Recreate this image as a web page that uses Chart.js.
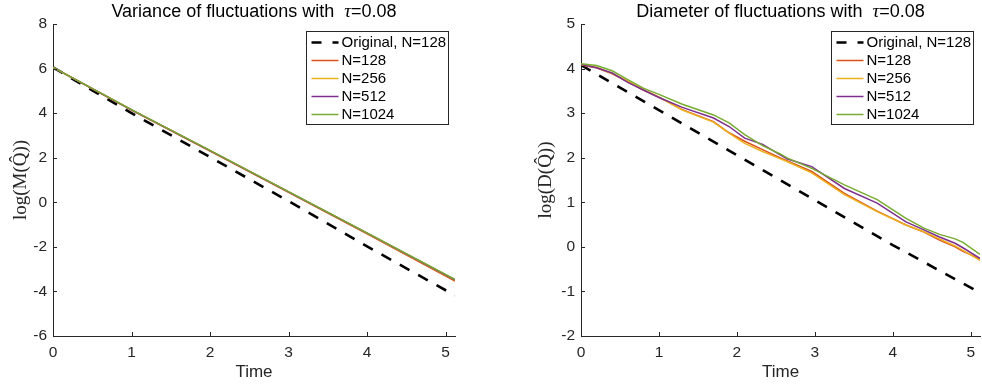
<!DOCTYPE html>
<html><head><meta charset="utf-8">
<script src="https://cdn.jsdelivr.net/npm/chart.js@4.4.1/dist/chart.umd.min.js"></script>
<style>
html,body{margin:0;padding:0;background:#fff;}
#wrap{position:relative;width:982px;height:387px;overflow:hidden;background:#fff;}
.pane{position:absolute;top:0;width:491px;height:387px;}
</style></head><body>
<div id="wrap">
  <div class="pane" style="left:0"><canvas id="cVar" width="491" height="387"></canvas></div>
  <div class="pane" style="left:491px"><canvas id="cDia" width="491" height="387"></canvas></div>
</div>
<script>
// ---- data ----
var seriesLabels = ['Original, N=128','N=128','N=256','N=512','N=1024'];
var seriesColors = ['#000000','#D95319','#EDB120','#7E2F8E','#77AC30'];
var xTicks = [0,1,2,3,4,5];
var xMax = 5.12;

// left: variance
var varYTicks = [-6,-4,-2,0,2,4,6,8];
var varTime = [0,1,2,3,4,5.12];
var varOriginal = [6.05,4.0,2.03,0.05,-1.98,-4.18];
var varN128  = [6.05,4.14,2.30,0.45,-1.42,-3.54];
var varN256  = [6.05,4.15,2.32,0.47,-1.39,-3.49];
var varN512  = [6.05,4.15,2.32,0.47,-1.38,-3.48];
var varN1024 = [6.05,4.16,2.33,0.48,-1.37,-3.46];

// right: diameter
var diaYTicks = [-2,-1,0,1,2,3,4,5];
var diaOrigTime = [0,1,2,3,4,5.12];
var diaOriginal = [4.08,3.07,2.06,1.05,0.04,-1.03];
var diaTime  = [0,0.2,0.4,0.6,0.8,1.0,1.3,1.7,1.9,2.1,2.33,2.55,2.65,2.96,3.38,3.8,4.17,4.4,4.6,4.8,4.9,5.12];
var diaN128  = [4.08,4.02,3.88,3.71,3.52,3.36,3.08,2.81,2.56,2.37,2.18,2.00,1.93,1.69,1.20,0.80,0.49,0.33,0.15,0.00,-0.10,-0.27];
var diaN256  = [4.09,4.03,3.89,3.72,3.53,3.36,3.07,2.80,2.55,2.32,2.14,1.98,1.91,1.66,1.17,0.79,0.49,0.34,0.18,0.02,-0.08,-0.30];
var diaN512  = [4.09,4.02,3.90,3.69,3.52,3.35,3.13,2.89,2.70,2.44,2.30,2.07,1.97,1.80,1.31,0.98,0.56,0.38,0.22,0.08,-0.02,-0.26];
var diaN1024 = [4.11,4.07,3.95,3.75,3.56,3.42,3.20,2.96,2.78,2.52,2.27,2.09,1.99,1.76,1.39,1.06,0.64,0.42,0.28,0.18,0.10,-0.17];

var SANS = "'Liberation Sans', Arial, Helvetica, sans-serif";
var SERIF = "'Liberation Serif', 'DejaVu Serif', serif";
var AXC = '#262626';

function pts(xs, ys){ return xs.map(function(x,i){ return {x:x, y:ys[i]}; }); }

function makeSets(tOrig, orig, t, s1, s2, s3, s4){
  var ys = [orig, s1, s2, s3, s4];
  return ys.map(function(v,i){
    return {
      label: seriesLabels[i],
      data: pts(i===0 ? tOrig : t, v),
      borderColor: seriesColors[i],
      borderWidth: i===0 ? 2.6 : 1.5,
      borderDash: i===0 ? [11,10] : [],
      pointRadius: 0, tension: 0, fill: false,
      order: 4 - i
    };
  });
}

// MATLAB-like decorations: inward ticks, boxed legend, title, y label
var decor = {
  id: 'decor',
  afterDraw: function(chart){
    var o = chart.options.plugins.decor, ctx = chart.ctx, a = chart.chartArea;
    var sx = chart.scales.x, sy = chart.scales.y;
    ctx.save();
    // ticks
    ctx.strokeStyle = AXC; ctx.lineWidth = 1;
    ctx.beginPath();
    sx.ticks.forEach(function(t){
      var px = Math.round(sx.getPixelForValue(t.value)) + 0.5;
      ctx.moveTo(px, a.bottom); ctx.lineTo(px, a.bottom - 4);
    });
    sy.ticks.forEach(function(t){
      var py = Math.round(sy.getPixelForValue(t.value)) + 0.5;
      ctx.moveTo(a.left, py); ctx.lineTo(a.left + 4, py);
    });
    ctx.stroke();

    // legend
    var bw = 142, bh = 93, bx = Math.round(a.right - 7 - bw) + 0.5, by = Math.round(a.top + 7) + 0.5;
    ctx.fillStyle = '#fff'; ctx.fillRect(bx, by, bw, bh);
    ctx.strokeStyle = AXC; ctx.lineWidth = 1; ctx.strokeRect(bx, by, bw, bh);
    ctx.font = '15px ' + SANS; ctx.textBaseline = 'middle'; ctx.textAlign = 'left';
    chart.data.datasets.forEach(function(d,i){
      var cy = by + 11 + i*18;
      ctx.beginPath();
      ctx.strokeStyle = d.borderColor; ctx.lineWidth = d.borderWidth;
      ctx.setLineDash(d.borderDash.length ? [10,11] : []);
      ctx.moveTo(bx + 5, cy); ctx.lineTo(bx + 32, cy); ctx.stroke();
      ctx.setLineDash([]);
      ctx.fillStyle = '#000'; ctx.fillText(d.label, bx + 35, cy + 0.5);
    });

    // title
    var parts = [
      {t: o.title + ' ', f: '18px ' + SANS},
      {t: ' ', f: '18px ' + SANS},
      {t: '\u03C4', f: 'italic 19px ' + SERIF},
      {t: '=0.08', f: '18px ' + SANS}
    ];
    var tw = 0;
    parts.forEach(function(p){ ctx.font = p.f; p.w = ctx.measureText(p.t).width; tw += p.w; });
    var x = (a.left + a.right)/2 - tw/2;
    ctx.fillStyle = '#000'; ctx.textBaseline = 'alphabetic';
    parts.forEach(function(p){ ctx.font = p.f; ctx.fillText(p.t, x, 17); x += p.w; });

    // y label
    ctx.save();
    ctx.translate(o.ylabelX, (a.top + a.bottom)/2);
    ctx.rotate(-Math.PI/2);
    ctx.font = '19px ' + SERIF; ctx.textAlign = 'center'; ctx.textBaseline = 'middle';
    ctx.fillStyle = AXC;
    ctx.fillText(o.ylabel, 0, 0);
    ctx.restore();
    ctx.restore();
  }
};

function buildChart(id, sets, yMin, yMax, yTicks, padLeftAxis, padRight, title, ylabel, ylabelX){
  return new Chart(document.getElementById(id), {
    type: 'line',
    data: {datasets: sets},
    plugins: [decor],
    options: {
      responsive: false, animation: false, maintainAspectRatio: false,
      layout: {padding: {left: 0, right: padRight, top: 24, bottom: 0}},
      plugins: {
        legend: {display: false}, tooltip: {enabled: false},
        decor: {title: title, ylabel: ylabel, ylabelX: ylabelX}
      },
      scales: {
        x: {
          type: 'linear', min: 0, max: xMax,
          afterBuildTicks: function(s){ s.ticks = xTicks.map(function(v){ return {value: v}; }); },
          grid: {display: false, drawTicks: false},
          border: {display: true, color: AXC, width: 1},
          ticks: {color: AXC, font: {family: SANS, size: 15.5}, padding: 7, maxRotation: 0},
          title: {display: true, text: 'Time', color: AXC, font: {family: SANS, size: 17}, padding: {top: 0, bottom: 4}},
          afterFit: function(s){ s.height = 387 - 336; }
        },
        y: {
          min: yMin, max: yMax,
          afterBuildTicks: function(s){ s.ticks = yTicks.map(function(v){ return {value: v}; }); },
          grid: {display: false, drawTicks: false},
          border: {display: true, color: AXC, width: 1},
          ticks: {color: AXC, font: {family: SANS, size: 15.5}, padding: 6},
          afterFit: function(s){ s.width = padLeftAxis; }
        }
      }
    }
  });
}

buildChart('cVar', makeSets(varTime, varOriginal, varTime, varN128, varN256, varN512, varN1024),
  -6, 8, varYTicks, 53, 36, 'Variance of fluctuations with', 'log(M(Q\u0302))', 21);
buildChart('cDia', makeSets(diaOrigTime, diaOriginal, diaTime, diaN128, diaN256, diaN512, diaN1024),
  -2, 5, diaYTicks, 90, 0, 'Diameter of fluctuations with', 'log(D(Q\u0302))', 55);
</script>
</body></html>
